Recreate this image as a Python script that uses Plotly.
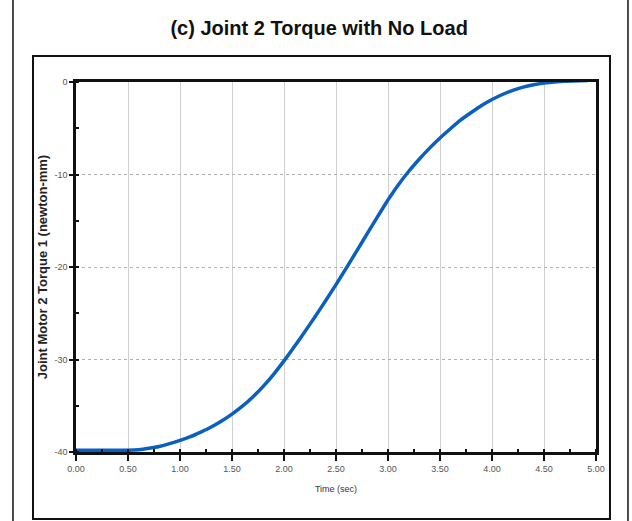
import plotly.graph_objects as go

# Joint 2 motor torque over the move, no payload
time_s = [0.0, 0.25, 0.5, 0.6, 0.7, 0.8, 0.9, 1.0, 1.1, 1.2, 1.3, 1.4,
          1.5, 1.6, 1.7, 1.8, 1.9, 2.0, 2.1, 2.2, 2.3, 2.4, 2.5, 2.6, 2.7,
          2.8, 2.9, 3.0, 3.1, 3.2, 3.3, 3.4, 3.5, 3.6, 3.7, 3.8, 3.9, 4.0,
          4.1, 4.2, 4.3, 4.4, 4.5, 4.6, 4.7, 4.92]
torque = [-39.8, -39.8, -39.8, -39.75, -39.6, -39.4, -39.1, -38.75, -38.35,
          -37.85, -37.3, -36.65, -35.9, -35.05, -34.05, -32.9, -31.6, -30.15,
          -28.6, -27.0, -25.35, -23.65, -21.9, -20.1, -18.25, -16.4, -14.55,
          -12.75, -11.1, -9.65, -8.35, -7.15, -6.05, -5.05, -4.1, -3.3,
          -2.55, -1.9, -1.35, -0.9, -0.55, -0.3, -0.12, 0.0, 0.08, 0.15]

x_ticks = [0.0, 0.5, 1.0, 1.5, 2.0, 2.5, 3.0, 3.5, 4.0, 4.5, 5.0]
x_tick_text = ["0.00", "0.50", "1.00", "1.50", "2.00", "2.50", "3.00",
               "3.50", "4.00", "4.50", "5.00"]
y_ticks = [-40, -30, -20, -10, 0]
y_tick_text = ["-40", "-30", "-20", "-10", "0"]

title_text = "(c) Joint 2 Torque with No Load"
x_title = "Time (sec)"
y_title = "Joint Motor 2 Torque 1 (newton-mm)"

fig = go.Figure()
fig.add_trace(go.Scatter(
    x=time_s, y=torque, mode="lines",
    line=dict(color="#0b5fbf", width=3.5, shape="spline", smoothing=0.4),
    cliponaxis=False, showlegend=False,
))

fig.update_layout(
    width=632, height=521,
    margin=dict(l=76, r=36, t=82, b=69),
    paper_bgcolor="white", plot_bgcolor="white",
    font=dict(family="Liberation Sans, Arial, sans-serif", color="#222"),
    title=dict(text="<b>" + title_text + "</b>", x=0.505, xanchor="center",
               y=0.946, yanchor="middle",
               font=dict(size=20, color="#111")),
)

fig.update_xaxes(
    range=[0, 5], tickvals=x_ticks, ticktext=x_tick_text,
    tickfont=dict(size=9, color="#555"),
    ticks="outside", ticklen=6, tickwidth=2, tickcolor="#111",
    minor=dict(dtick=0.25, ticks="inside", ticklen=3, tickwidth=2,
               tickcolor="#111", showgrid=False),
    showline=True, linewidth=2.5, linecolor="#111", mirror=True,
    showgrid=True, gridcolor="#cfcfcf", gridwidth=1,
    zeroline=False,
    title=dict(text=x_title, font=dict(size=9, color="#333"), standoff=14),
)
fig.update_yaxes(
    range=[-40, 0], tickvals=y_ticks, ticktext=y_tick_text,
    tickfont=dict(size=9, color="#555"),
    ticks="outside", ticklen=4, tickwidth=2, tickcolor="#111",
    minor=dict(dtick=5, ticks="inside", ticklen=3, tickwidth=2,
               tickcolor="#111", showgrid=False),
    showline=True, linewidth=2.5, linecolor="#111", mirror=True,
    showgrid=True, gridcolor="#b0b0b0", gridwidth=1, griddash="dot",
    zeroline=False,
    title=dict(text="<b>" + y_title + "</b>",
               font=dict(size=13, color="#222"), standoff=4),
)

# Outer frame side rules and the inner panel box
fig.add_shape(type="line", xref="paper", yref="paper",
              x0=-0.1212, x1=-0.1212, y0=-0.2, y1=1.23,
              line=dict(color="#111", width=1.5))
fig.add_shape(type="line", xref="paper", yref="paper",
              x0=1.0615, x1=1.0615, y0=-0.2, y1=1.23,
              line=dict(color="#111", width=1.5))
fig.add_shape(type="rect", xref="paper", yref="paper",
              x0=-0.0827, x1=1.0269, y0=-0.181, y1=1.0703,
              line=dict(color="#111", width=2), fillcolor="rgba(0,0,0,0)",
              layer="below")

fig.write_html("out.html")
